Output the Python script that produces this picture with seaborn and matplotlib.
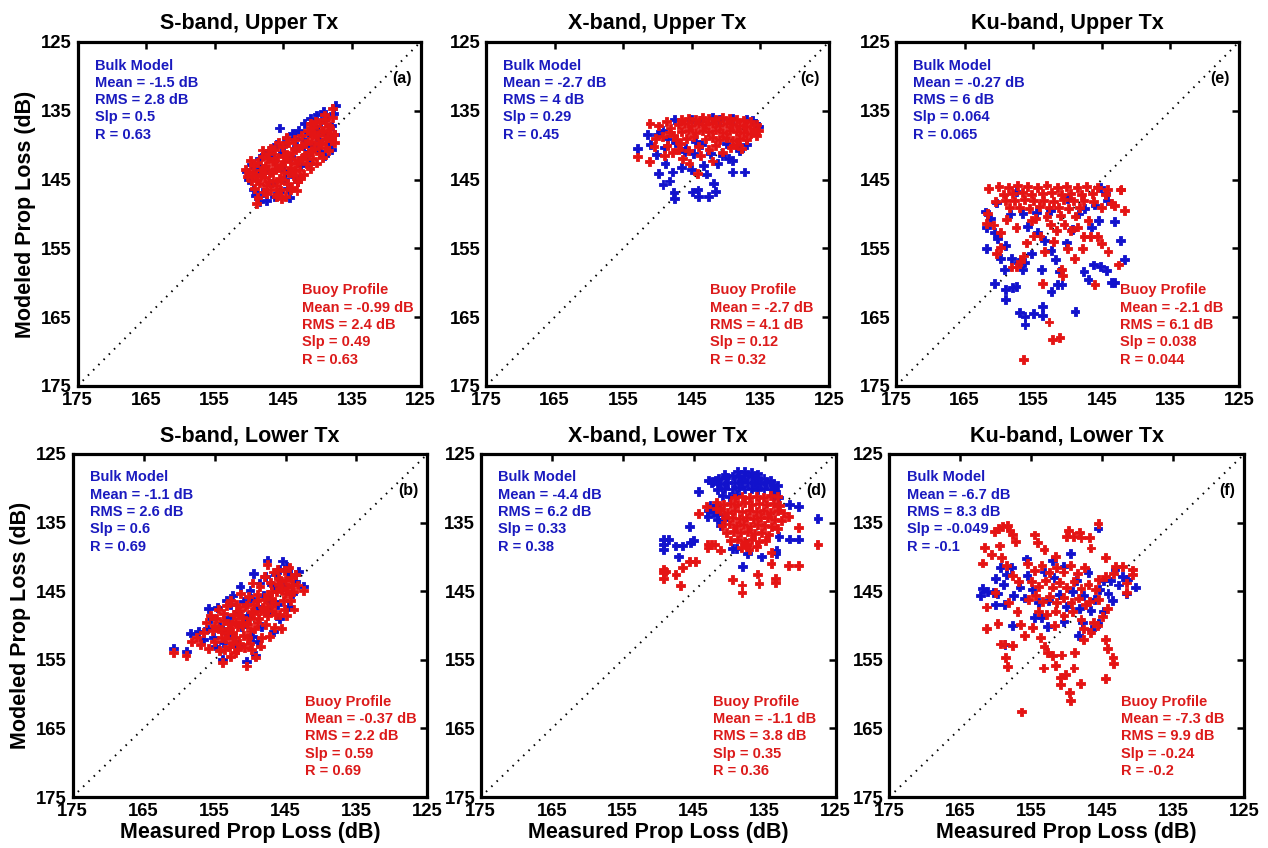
import matplotlib
matplotlib.use("Agg")
import matplotlib.pyplot as plt
import seaborn as sns
import pandas as pd

# ---------------- data (measured, modeled) ----------------
a_bulk = [(150.4,143.9),(150.1,145.0),(149.6,142.8),(149.3,146.4),(148.9,144.0),(148.5,141.9),(148.4,148.2),(148.0,146.9),
          (147.7,141.3),(147.4,143.6),(147.0,140.8),(146.7,145.5),(146.4,142.2),(146.0,139.9),(145.6,137.5),(145.5,146.8),
          (145.2,141.1),(144.9,143.7),(144.6,139.0),(144.4,146.3),(144.0,141.7),(143.7,138.3),(143.4,144.6),(143.1,140.2),
          (142.8,137.8),(142.5,142.9),(142.2,139.1),(141.9,136.9),(141.6,141.3),(141.3,138.2),(141.0,136.1),(140.7,140.1),
          (140.4,137.3),(140.1,135.6),(139.8,139.2),(139.5,136.6),(139.2,135.1),(138.9,138.4),(138.6,135.9),(138.3,139.7),
          (138.0,137.2),(137.7,135.4),(137.4,134.2),(137.5,138.4),(139.6,140.9),(141.2,142.6),(142.9,145.3),(144.1,147.6),
          (146.3,147.4),(147.5,148.0),(149.0,147.3),(143.3,139.0),(145.0,140.1),(146.8,141.5),(148.6,143.0),(140.0,138.0),
          (142.0,140.0),(139.0,141.5),(137.9,140.6),(144.8,145.0)]
a_buoy = [(150.2,144.6),(150.0,143.9),(149.6,145.2),(149.4,143.0),(149.2,146.3),(149.0,144.4),(148.8,142.5),(148.7,147.6),
          (148.5,145.5),(148.3,143.6),(148.1,141.6),(147.9,146.8),(147.8,144.7),(147.6,142.9),(147.4,145.9),(147.2,141.2),
          (147.0,144.0),(146.8,146.4),(146.6,142.4),(146.5,145.1),(146.3,140.6),(146.1,143.5),(145.9,147.2),(145.8,141.7),
          (145.6,144.8),(145.4,146.5),(145.2,142.9),(145.1,140.2),(144.9,144.0),(144.7,147.5),(144.5,141.4),(144.4,145.6),
          (144.2,139.6),(144.0,143.2),(143.8,146.1),(143.7,141.0),(143.5,144.4),(143.3,139.2),(143.1,142.6),(142.9,145.3),
          (142.8,140.4),(142.6,143.6),(142.4,138.6),(142.2,141.8),(142.0,144.2),(141.8,139.8),(141.6,142.7),(141.5,137.9),
          (141.3,141.1),(141.1,143.4),(140.9,139.4),(140.7,141.9),(140.6,137.4),(140.4,140.5),(140.2,142.6),(140.0,138.6),
          (139.8,141.2),(139.7,136.7),(139.5,139.7),(139.3,141.8),(139.1,137.9),(138.9,140.4),(138.8,136.3),(138.6,138.9),
          (138.4,140.8),(138.2,137.4),(138.0,139.3),(137.8,136.0),(137.6,138.4),(137.5,139.6),(137.8,134.7),(146.0,147.4),
          (145.3,147.7),(147.5,147.0),(148.9,148.5),(143.0,146.6),(142.5,144.8),(139.0,135.6),(140.3,136.6),(141.0,136.9),
          (144.6,138.9),(145.7,139.6),(146.8,140.4),(148.0,140.7),(149.8,142.2),(150.5,143.5),
          (149.5,144.0),(148.8,145.0),(148.2,144.2),(147.7,143.4),(147.1,145.3),(146.6,143.8),(146.2,142.3),(145.7,143.2),
          (145.3,145.0),(144.8,142.4),(144.3,144.0),(143.9,142.0),(143.4,140.5),(142.9,142.2),(142.4,140.0),(141.9,141.5),
          (141.4,139.4),(140.9,140.8),(140.4,138.4),(139.9,139.8),(139.4,138.0),(138.9,139.2),(138.4,137.2),(138.1,138.3),
          (145.0,141.5),(143.2,143.7),(141.0,138.2),(147.3,142.0),(146.0,145.9),(144.0,146.5)]

b_bulk = [(160.8,153.4),(158.9,153.8),(158.4,151.1),(157.2,150.9),(156.6,152.0),(156.0,150.5),(155.5,149.0),(155.1,151.8),
          (154.6,147.4),(154.3,150.2),(153.9,154.9),(153.8,152.5),(153.3,146.3),(153.0,148.9),(152.7,151.3),(152.4,145.6),
          (152.1,153.0),(151.8,147.9),(151.4,144.3),(151.2,150.2),(150.9,146.5),(150.5,155.3),(150.3,148.6),(150.0,144.9),
          (149.7,151.6),(149.5,142.4),(149.2,154.3),(149.0,147.2),(148.7,143.8),(148.4,150.1),(148.1,145.6),(147.8,142.9),
          (147.6,140.5),(147.3,148.0),(147.0,144.1),(146.7,150.9),(146.4,142.6),(146.1,146.9),(145.8,141.8),(145.4,140.6),
          (145.2,144.3),(144.8,141.4),(144.6,147.2),(144.3,142.9),(144.0,145.3),(143.6,143.6),(143.2,142.1),(142.5,144.3),
          (145.9,149.0),(148.9,152.4),(151.6,152.8),(153.5,150.8),(155.8,147.5),(149.9,146.0),(147.4,146.2),(150.6,149.6),
          (152.8,147.0),(146.5,144.5),(144.7,142.0),(154.9,153.0)]
b_buoy = [(160.8,153.9),(159.0,154.4),(158.3,152.4),(157.5,151.7),(157.0,152.8),(156.5,151.0),(156.2,149.6),(155.9,153.3),
          (155.6,148.5),(155.3,150.7),(155.0,152.4),(154.7,149.0),(154.5,147.6),(154.3,153.7),(154.0,150.6),(153.9,155.4),
          (153.7,148.3),(153.5,151.9),(153.3,147.1),(153.1,149.7),(152.9,153.1),(152.7,146.4),(152.5,151.0),(152.3,148.4),
          (152.1,154.0),(151.9,146.9),(151.7,150.1),(151.5,152.6),(151.3,145.4),(151.1,148.9),(150.9,151.5),(150.7,147.3),
          (150.5,155.9),(150.4,149.8),(150.2,145.8),(150.0,152.6),(149.8,148.0),(149.6,143.8),(149.4,150.5),(149.2,154.6),
          (149.0,146.4),(148.8,149.0),(148.6,144.3),(148.4,151.7),(148.2,147.3),(148.0,142.9),(147.8,149.8),(147.6,141.1),
          (147.5,145.5),(147.3,151.6),(147.1,143.7),(146.9,147.8),(146.7,142.2),(146.5,150.3),(146.3,145.0),(146.1,141.8),
          (145.9,148.4),(145.7,143.4),(145.5,150.4),(145.3,146.3),(145.1,142.0),(144.9,148.5),(144.7,144.4),(144.5,141.6),
          (144.3,146.4),(144.1,143.0),(143.9,145.0),(143.6,142.6),(143.3,144.1),(142.5,144.9),(143.8,147.6),(145.0,145.4),
          (146.0,144.0),(147.0,146.0),(148.0,148.0),(149.0,149.6),(150.0,150.8),(151.0,150.0),(152.0,149.4),(153.0,150.4),
          (154.0,151.8),(155.0,150.0),(151.5,147.8),(149.5,147.0),(147.5,147.2),(152.5,152.5),(153.6,153.5),(150.8,153.2),
          (154.5,150.5),(153.8,149.3),(153.2,151.0),(152.6,149.9),(152.0,151.8),(151.6,148.4),(151.0,149.5),(150.5,147.0),
          (150.0,149.0),(149.5,148.2),(149.0,145.5),(148.5,147.9),(148.0,146.2),(147.5,148.6),(147.0,145.0),(146.5,146.8),
          (146.0,143.2),(145.5,144.8),(145.0,143.4),(144.5,145.4),(144.0,144.0),(150.3,151.8),(151.8,153.5),(152.8,154.5),
          (149.8,153.5),(148.5,153.0),(146.4,148.4),(145.2,147.6)]

c_bulk = [(147.5,136.3),(145.0,136.2),(142.0,136.0),(139.0,136.1),(137.0,136.2),(136.2,136.4),(135.7,136.9),(135.3,137.3),
          (141.0,136.3),(143.8,136.4),(151.5,138.5),(150.0,138.4),(149.2,137.8),(148.5,139.1),(151.0,139.9),(152.9,140.5),
          (150.2,141.4),(149.0,140.4),(147.4,139.6),(146.1,140.9),(149.8,144.1),(149.2,145.7),(148.3,145.2),(147.6,146.9),
          (147.5,147.8),(144.9,146.8),(144.1,146.5),(144.0,147.4),(142.6,147.5),(141.5,146.7),(141.8,145.5),(139.1,143.9),
          (137.3,143.9),(143.3,142.9),(141.2,142.7),(139.6,141.9),(139.1,142.2),(148.9,142.7),(147.8,143.9),(144.7,141.2),
          (145.9,140.5),(142.3,141.2),(140.6,141.5),(143.6,139.9),(140.0,139.8),(138.0,140.8),(137.0,139.9),(145.0,143.5),
          (142.8,144.2),(146.5,143.2),(144.5,139.5)]
c_buoy = [(146.5,136.2),(145.5,136.1),(144.5,136.3),(143.5,136.0),(142.5,136.1),(141.5,136.2),(140.5,136.0),(139.5,136.1),
          (138.5,136.2),(137.5,136.4),(136.5,136.6),(135.5,137.0),(147.0,137.0),(146.0,136.9),(145.0,137.1),(144.0,136.8),
          (143.0,137.0),(142.0,136.9),(141.0,137.1),(140.0,136.8),(139.0,137.0),(138.0,137.1),(137.0,137.3),(136.0,137.5),
          (135.2,137.9),(146.5,138.0),(145.5,137.8),(144.5,138.1),(143.5,137.9),(142.5,138.0),(141.5,137.8),(140.5,138.1),
          (139.5,137.9),(138.5,138.0),(137.5,138.2),(136.5,138.3),(135.6,138.6),(145.8,139.0),(144.8,138.8),(143.0,139.1),
          (142.0,138.9),(141.0,139.2),(140.0,138.9),(139.0,139.3),(138.0,139.0),(137.0,139.2),(144.0,140.2),(142.5,140.6),
          (141.5,140.0),(140.5,141.0),(139.3,140.4),(138.5,139.9),(137.8,140.5),(143.7,141.5),(142.0,142.3),(144.2,144.1),
          (145.5,140.8),(146.6,139.8),(147.2,139.2),(151.1,136.9),(149.8,137.2),(148.7,136.6),(148.1,137.5),(147.6,138.6),
          (149.3,138.7),(150.3,139.0),(148.6,140.0),(147.8,141.1),(149.0,141.5),(150.5,140.2),(152.9,141.7),(151.2,142.4),
          (146.3,142.0),(145.4,142.6),(148.2,138.2),(146.9,140.6)]

d_bulk = [(138.8,127.6),(137.8,127.5),(136.9,127.7),(136.0,127.9),(141.5,128.6),(140.5,128.4),(139.6,128.2),(138.7,128.3),
          (137.8,128.2),(136.9,128.3),(136.0,128.4),(135.1,128.6),(134.2,128.9),(142.4,129.0),(141.2,129.3),(140.2,129.1),
          (139.2,129.2),(138.3,129.0),(137.4,129.2),(136.5,129.1),(135.6,129.3),(134.7,129.2),(133.8,129.4),(133.2,129.6),
          (141.6,130.2),(140.6,130.0),(139.6,130.1),(138.7,129.9),(137.8,130.1),(136.9,130.0),(136.0,130.2),(135.1,130.0),
          (134.2,130.1),(133.4,130.4),(141.0,131.0),(140.0,131.2),(139.0,130.9),(133.8,131.1),(133.1,131.3),(144.3,130.5),
          (142.5,129.2),(141.9,128.9),(140.6,128.0),(149.3,137.5),(148.6,137.5),(149.3,138.2),(149.3,138.9),(147.5,138.4),
          (146.6,138.4),(147.1,140.0),(145.5,137.9),(145.6,135.6),(145.0,137.6),(143.0,133.2),(143.0,134.1),(142.9,128.8),
          (141.8,132.5),(141.6,133.8),(140.8,134.6),(139.5,138.8),(139.0,138.8),(138.1,141.4),(135.5,140.0),(133.4,139.1),
          (133.4,139.5),(131.5,132.4),(130.2,132.6),(130.2,137.4),(131.5,137.4),(127.5,134.4),(133.0,137.0),(137.4,139.5),
          (142.7,132.5),(142.2,133.5),(141.6,134.5),(141.2,135.5)]
d_buoy = [(139.2,131.4),(138.2,131.2),(137.2,131.3),(136.2,131.2),(135.2,131.3),(134.2,131.1),(133.2,131.2),(140.8,132.4),
          (139.8,132.2),(138.8,132.3),(137.8,132.1),(136.8,132.4),(135.8,132.2),(134.8,132.3),(133.8,132.2),(132.9,132.5),
          (141.2,133.3),(140.2,133.5),(139.2,133.2),(138.2,133.4),(137.2,133.2),(136.2,133.4),(135.2,133.3),(134.2,133.5),
          (133.2,133.3),(132.4,133.6),(140.6,134.3),(139.6,134.2),(138.6,134.4),(137.6,134.2),(136.6,134.4),(135.6,134.3),
          (134.6,134.2),(133.6,134.5),(132.6,134.7),(141.0,135.4),(140.0,135.2),(139.0,135.4),(138.0,135.3),(137.0,135.5),
          (136.0,135.3),(135.0,135.4),(134.0,135.6),(133.2,135.9),(140.4,136.5),(139.4,136.3),(138.4,136.5),(137.4,136.3),
          (136.4,136.6),(135.4,136.4),(134.4,136.8),(139.8,137.6),(138.8,137.4),(137.8,137.7),(136.8,137.5),(135.8,137.8),
          (134.9,137.6),(138.3,138.6),(137.2,138.9),(136.1,138.5),(149.3,141.8),(149.3,142.3),(148.9,142.1),(149.3,143.1),
          (147.5,142.6),(146.9,144.2),(146.6,141.6),(145.6,140.7),(144.7,140.7),(144.3,133.7),(143.2,132.6),(143.0,138.2),
          (142.5,138.2),(142.0,138.2),(143.0,138.7),(141.2,139.0),(141.8,132.0),(141.8,133.0),(139.5,143.3),(138.2,144.1),
          (138.2,145.2),(136.0,142.5),(135.8,143.9),(133.5,143.1),(133.5,143.7),(131.7,141.2),(130.2,141.3),(130.2,135.7),
          (131.6,134.1),(127.5,138.2),(134.1,141.0),(137.5,138.2),(134.1,139.4)]

e_bulk = [(161.8,155.0),(160.6,160.1),(159.0,161.0),(159.0,162.4),(158.0,160.7),(157.5,160.5),(157.0,164.3),(156.2,164.9),
          (156.2,166.1),(155.0,164.5),(153.6,163.5),(153.6,164.8),(153.8,158.1),(152.4,161.3),(151.5,160.3),(150.8,160.3),
          (151.2,158.4),(148.9,164.2),(147.6,158.4),(147.0,159.5),(146.2,157.4),(145.2,157.6),(144.3,158.2),(143.6,160.0),
          (143.1,159.9),(142.3,153.8),(141.7,156.6),(143.2,151.1),(144.2,148.0),(144.5,147.0),(145.5,150.9),(146.5,151.9),
          (161.9,149.7),(161.2,150.6),(161.8,152.0),(160.6,152.7),(160.2,153.6),(159.0,154.6),(159.8,156.5),(159.2,158.1),
          (158.2,156.5),(157.2,157.0),(156.2,157.0),(156.5,158.1),(155.8,151.8),(154.4,152.7),(153.4,153.8),(152.4,155.3),
          (151.7,156.6),(150.2,154.2),(149.3,152.2),(148.4,150.0),(147.5,149.2),(146.0,148.7),(152.5,149.5),(154.5,149.8),
          (156.5,149.9),(158.3,150.0),(160.3,148.4),(157.5,146.7),(150.0,147.8),(145.2,146.1),(155.2,155.8)]
e_buoy = [(161.5,146.3),(160.0,146.0),(158.6,146.1),(157.3,145.9),(155.8,146.0),(154.4,146.2),(153.0,145.8),(151.5,146.1),
          (150.2,146.0),(148.6,146.1),(147.2,146.0),(145.6,146.2),(144.2,146.4),(142.2,146.4),(159.3,147.1),(158.0,147.0),
          (156.6,146.9),(155.2,147.1),(153.7,147.0),(152.3,146.9),(150.9,147.1),(149.5,147.0),(148.0,147.2),(146.3,147.0),
          (144.5,147.2),(160.5,148.2),(159.0,148.0),(157.7,148.1),(156.3,147.9),(154.9,148.1),(153.5,148.0),(152.0,148.2),
          (150.6,147.9),(149.1,148.1),(147.6,148.0),(146.2,148.2),(143.6,148.5),(158.4,149.1),(157.0,149.0),(155.6,149.2),
          (154.1,148.9),(152.7,149.1),(151.3,149.0),(149.8,149.2),(148.3,149.1),(145.0,149.0),(161.7,149.9),(161.8,151.4),
          (160.8,151.6),(160.3,155.7),(159.8,154.9),(158.1,157.7),(157.4,157.7),(156.9,156.9),(156.4,156.1),(156.0,154.2),
          (155.0,153.2),(154.0,153.2),(153.6,160.1),(152.7,165.7),(152.2,168.2),(151.1,168.0),(156.4,171.1),(152.5,151.5),
          (151.6,152.4),(150.5,151.5),(150.0,155.0),(149.5,152.4),(148.5,151.9),(147.6,153.3),(146.6,153.3),(145.6,153.3),
          (145.1,154.3),(144.1,155.4),(142.6,157.4),(141.7,149.5),(142.3,146.5),(143.2,148.8),(146.0,160.3),(150.7,159.0),
          (150.9,158.0),(158.9,150.8),(157.5,152.0),(154.6,150.6),(153.0,150.4),(151.0,150.2),(148.9,150.3),(147.0,150.9),
          (159.8,152.7),(155.3,151.0),(153.3,155.5),(152.0,154.0),(149.0,156.5),(147.8,155.0)]

f_bulk = [(161.9,144.6),(161.2,145.0),(160.3,145.2),(159.7,145.4),(158.9,144.0),(158.5,142.6),(159.4,141.6),(158.8,146.9),
          (160.0,147.0),(157.5,145.6),(156.6,144.4),(156.0,146.0),(155.6,142.7),(154.9,144.8),(154.0,146.7),(153.2,142.2),
          (152.6,146.3),(151.8,143.0),(151.0,145.5),(150.4,141.4),(150.0,147.2),(149.2,145.1),(148.6,143.4),(148.2,147.5),
          (147.6,145.6),(147.0,142.3),(146.6,147.8),(146.1,146.2),(145.6,135.8),(145.4,144.7),(144.8,143.4),(144.2,145.3),
          (143.8,143.5),(143.2,141.9),(142.7,144.1),(142.2,142.9),(141.6,145.4),(140.3,144.4),(141.4,143.3),(143.6,146.3),
          (144.8,148.0),(145.6,149.7),(146.5,150.6),(147.8,149.6),(148.4,151.5),(152.7,150.2),(154.6,148.8),(157.7,150.0),
          (158.7,152.8),(160.0,143.2),(162.1,145.6),(157.8,141.6),(155.7,140.3),(152.0,140.5),(149.5,139.5),(153.5,148.8),
          (150.4,149.4)]
f_buoy = [(159.6,135.9),(159.0,135.6),(158.3,135.4),(158.0,136.1),(157.7,136.7),(160.2,136.3),(157.2,137.7),(161.6,138.6),
          (159.5,138.4),(154.5,136.8),(154.1,137.9),(153.2,138.9),(151.6,139.9),(150.1,137.0),(149.8,136.1),(149.1,137.0),
          (148.2,136.4),(148.0,137.2),(146.8,137.2),(145.6,135.1),(146.6,138.7),(144.5,140.1),(143.1,141.4),(142.2,141.4),
          (140.7,141.9),(140.7,142.6),(141.6,143.8),(141.6,145.2),(143.4,142.4),(144.5,142.8),(145.5,143.3),(161.9,140.9),
          (160.6,139.7),(159.2,140.1),(158.5,141.3),(157.7,142.7),(156.8,143.6),(161.3,147.3),(161.3,150.4),(159.7,149.7),
          (159.4,152.7),(158.8,152.7),(157.6,152.9),(158.6,154.7),(158.3,156.0),(156.4,162.6),(160.1,145.2),(158.2,146.6),
          (157.0,148.0),(156.5,149.8),(155.5,141.0),(154.5,142.0),(153.5,141.2),(152.5,142.3),(151.5,141.5),(150.5,142.2),
          (149.5,141.3),(148.5,142.4),(147.5,141.6),(155.0,143.6),(154.0,144.3),(153.0,143.5),(152.0,144.4),(151.0,143.7),
          (150.0,144.5),(149.0,143.6),(148.0,144.6),(147.0,144.0),(146.0,144.8),(155.4,146.2),(154.4,145.6),(153.4,146.5),
          (152.4,145.8),(151.4,146.6),(150.4,145.9),(149.4,146.7),(148.4,146.0),(147.4,147.0),(154.0,148.0),(152.8,148.4),
          (151.6,147.9),(150.4,148.6),(149.2,148.0),(148.0,149.1),(153.7,151.8),(153.2,153.0),(152.7,153.9),(153.3,156.2),
          (152.0,154.4),(151.6,155.8),(150.8,154.3),(150.9,157.6),(150.9,158.6),(149.5,161.0),(150.2,157.2),(149.6,159.8),
          (149.0,156.2),(148.1,158.5),(148.9,153.9),(147.6,152.0),(146.6,151.0),(146.3,149.6),(145.0,148.7),(144.3,147.5),
          (144.6,152.0),(144.3,153.4),(144.5,157.7),(143.5,154.6),(143.4,155.6),(145.7,150.0),(147.7,150.5),(151.7,150.0),
          (154.8,150.3),(156.0,151.5),(145.5,146.2),(146.8,146.5)]

titles = ["S-band, Upper Tx", "X-band, Upper Tx", "Ku-band, Upper Tx",
          "S-band, Lower Tx", "X-band, Lower Tx", "Ku-band, Lower Tx"]
letters = ["(a)", "(c)", "(e)", "(b)", "(d)", "(f)"]
bulk_stats = [("-1.5", "2.8", "0.5", "0.63"), ("-2.7", "4", "0.29", "0.45"), ("-0.27", "6", "0.064", "0.065"),
              ("-1.1", "2.6", "0.6", "0.69"), ("-4.4", "6.2", "0.33", "0.38"), ("-6.7", "8.3", "-0.049", "-0.1")]
buoy_stats = [("-0.99", "2.4", "0.49", "0.63"), ("-2.7", "4.1", "0.12", "0.32"), ("-2.1", "6.1", "0.038", "0.044"),
              ("-0.37", "2.2", "0.59", "0.69"), ("-1.1", "3.8", "0.35", "0.36"), ("-7.3", "9.9", "-0.24", "-0.2")]
ticks = [125, 135, 145, 155, 165, 175]
series_names = ["Bulk Model", "Buoy Profile"]
panel_data = [(a_bulk, a_buoy), (c_bulk, c_buoy), (e_bulk, e_buoy),
              (b_bulk, b_buoy), (d_bulk, d_buoy), (f_bulk, f_buoy)]

# ---------------- styling ----------------
sns.set_style("white")
plt.rcParams['font.family'] = ['Liberation Sans', 'DejaVu Sans']
plt.rcParams['font.weight'] = 'bold'
plt.rcParams['text.color'] = 'black'
plt.rcParams['axes.labelcolor'] = 'black'
plt.rcParams['xtick.color'] = 'black'
plt.rcParams['ytick.color'] = 'black'
BLUE = '#1212cc'
RED = '#e41414'
TBLUE = '#1a1abf'
TRED = '#dc1a1a'

fig = plt.figure(figsize=(12.68, 8.48), dpi=100)
W, H = 1268, 848
boxes = [(77.5, 42, 343, 344), (486, 42, 343, 344), (896, 42, 343, 344),
         (72.5, 454, 355, 343), (480.7, 454, 355, 343), (889.3, 454, 355, 343)]

for i, (bx, by, bw, bh) in enumerate(boxes):
    ax = fig.add_axes([bx / W, 1 - (by + bh) / H, bw / W, bh / H])
    bulk, buoy = panel_data[i]
    df = pd.DataFrame(
        [(x, y, series_names[0]) for x, y in bulk] + [(x, y, series_names[1]) for x, y in buoy],
        columns=["measured", "modeled", "series"])
    ax.plot([ticks[-1], ticks[0]], [ticks[-1], ticks[0]], color='k', lw=1.4,
            ls=(0, (0.8, 3.0)), zorder=1)
    sns.scatterplot(data=df, x="measured", y="modeled", hue="series", hue_order=series_names,
                    palette=[BLUE, RED], marker='P', s=40, linewidth=0.6, edgecolor='face',
                    legend=False, ax=ax, zorder=2)
    ax.set_xlim(175, 125)
    ax.set_ylim(175, 125)
    ax.set_xticks(ticks)
    ax.set_yticks(ticks)
    ax.tick_params(direction='in', length=5, width=1.8, top=True, right=True,
                   labelsize=13.3, pad=4, colors='black')
    for lab in ax.get_xticklabels() + ax.get_yticklabels():
        lab.set_fontweight('bold')
    for sp in ax.spines.values():
        sp.set_linewidth(2.3)
        sp.set_color('k')
    ax.set_title(titles[i], fontsize=15.5, fontweight='bold', pad=9, color='black')
    ax.set_xlabel("Measured Prop Loss (dB)" if i >= 3 else "", fontsize=15.5, fontweight='bold',
                  labelpad=2, color='black')
    ax.set_ylabel("Modeled Prop Loss (dB)" if i % 3 == 0 else "", fontsize=15.5, fontweight='bold',
                  labelpad=4, color='black')
    m, r, s, rr = bulk_stats[i]
    ax.text(172.5, 127.4, f"Bulk Model\nMean = {m} dB\nRMS = {r} dB\nSlp = {s}\nR = {rr}",
            color=TBLUE, fontsize=10.5, fontweight='bold', ha='left', va='top', linespacing=1.3, zorder=3)
    m, r, s, rr = buoy_stats[i]
    ax.text(142.3, 160.1, f"Buoy Profile\nMean = {m} dB\nRMS = {r} dB\nSlp = {s}\nR = {rr}",
            color=TRED, fontsize=10.5, fontweight='bold', ha='left', va='top', linespacing=1.3, zorder=3)
    ax.text(126.3, 130.3, letters[i], color='black', fontsize=11.5, fontweight='bold',
            ha='right', va='center', zorder=3)

fig.savefig("out.png", dpi=100)
